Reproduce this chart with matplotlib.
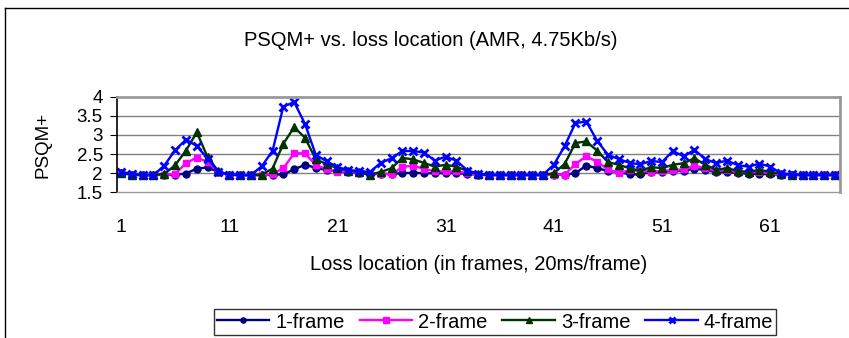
import matplotlib
matplotlib.use("Agg")
import matplotlib.pyplot as plt
from matplotlib.lines import Line2D

plt.rcParams["font.family"] = ["Liberation Sans", "DejaVu Sans"]

# loss location (frame index) and PSQM+ values
frames = list(range(1, 68))

one_frame = [
    2.01, 1.96, 1.95, 1.95, 1.96, 1.96, 1.99, 2.12, 2.15, 2.03,
    1.96, 1.95, 1.95, 1.95, 1.96, 1.97, 2.10, 2.22, 2.14, 2.08,
    2.05, 2.03, 2.01, 1.99, 1.98, 1.98, 2.00, 2.01, 2.00, 2.00,
    2.00, 2.00, 1.98, 1.96, 1.95, 1.95, 1.95, 1.95, 1.95, 1.95,
    1.96, 1.96, 2.00, 2.20, 2.13, 2.06, 2.03, 1.97, 1.97, 2.03,
    2.03, 2.06, 2.06, 2.12, 2.08, 2.03, 2.03, 2.01, 1.98, 1.98,
    1.97, 1.96, 1.95, 1.95, 1.95, 1.95, 1.95,
]
two_frame = [
    2.01, 1.96, 1.95, 1.95, 1.96, 1.98, 2.26, 2.41, 2.29, 2.03,
    1.96, 1.95, 1.95, 1.95, 1.98, 2.13, 2.52, 2.52, 2.21, 2.11,
    2.03, 2.05, 2.00, 1.97, 1.98, 1.97, 2.16, 2.20, 2.11, 2.05,
    2.05, 2.05, 2.00, 1.96, 1.95, 1.95, 1.95, 1.95, 1.95, 1.95,
    1.96, 1.96, 2.24, 2.44, 2.30, 2.10, 2.00, 2.08, 2.06, 2.04,
    2.06, 2.08, 2.10, 2.20, 2.13, 2.06, 2.08, 2.03, 2.03, 2.03,
    2.00, 1.97, 1.96, 1.95, 1.95, 1.95, 1.95,
]
three_frame = [
    2.01, 1.96, 1.95, 1.95, 1.98, 2.21, 2.59, 3.07, 2.42, 2.05,
    1.96, 1.95, 1.95, 1.96, 2.12, 2.77, 3.20, 2.93, 2.36, 2.24,
    2.13, 2.07, 2.03, 1.96, 2.03, 2.13, 2.40, 2.36, 2.27, 2.17,
    2.22, 2.17, 2.06, 1.97, 1.95, 1.95, 1.95, 1.95, 1.95, 1.95,
    2.00, 2.24, 2.79, 2.83, 2.59, 2.29, 2.22, 2.13, 2.06, 2.16,
    2.13, 2.22, 2.26, 2.39, 2.22, 2.09, 2.13, 2.06, 2.03, 2.09,
    2.03, 1.99, 1.96, 1.95, 1.95, 1.95, 1.95,
]
four_frame = [
    2.03, 1.99, 1.95, 1.95, 2.20, 2.60, 2.88, 2.71, 2.38, 2.04,
    1.96, 1.95, 1.95, 2.18, 2.58, 3.74, 3.86, 3.29, 2.48, 2.31,
    2.16, 2.08, 2.06, 2.03, 2.27, 2.39, 2.58, 2.58, 2.54, 2.33,
    2.43, 2.33, 2.07, 1.99, 1.96, 1.96, 1.96, 1.96, 1.96, 1.96,
    2.22, 2.71, 3.31, 3.35, 2.85, 2.48, 2.37, 2.27, 2.23, 2.32,
    2.29, 2.58, 2.44, 2.61, 2.37, 2.26, 2.33, 2.21, 2.17, 2.25,
    2.17, 2.00, 1.97, 1.96, 1.96, 1.96, 1.96,
]

series = [
    ("1-frame", one_frame, "#000080", "o", 5.0),
    ("2-frame", two_frame, "#FF00FF", "s", 5.0),
    ("3-frame", three_frame, "#003300", "^", 6.0),
    ("4-frame", four_frame, "#0000FF", "x", 6.0),
]

x_ticks = [1, 11, 21, 31, 41, 51, 61]
y_ticks = [1.5, 2, 2.5, 3, 3.5, 4]

fig = plt.figure(figsize=(8.49, 3.38), dpi=100)

# outer chart border (only top and left visible in the crop)
fig.add_artist(Line2D([5 / 849, 1.0], [1 - 8 / 338, 1 - 8 / 338],
                      transform=fig.transFigure, color="black", lw=1.0))
fig.add_artist(Line2D([5 / 849, 5 / 849], [0.0, 1 - 8 / 338],
                      transform=fig.transFigure, color="black", lw=1.0))

ax = fig.add_axes([116.7 / 849, 145.7 / 338, 723.3 / 849, 95.6 / 338])

for label, vals, color, marker, ms in series:
    mew = 2.0 if marker == "x" else 1.0
    ax.plot(frames, vals, color=color, lw=1.7, marker=marker, ms=ms,
            mew=mew, mec=color, mfc=color, label=label, clip_on=False)

ax.set_xlim(0.6, 67.45)
ax.set_ylim(1.5, 4)
ax.set_yticks(y_ticks)
ax.set_yticklabels(["1.5", "2", "2.5", "3", "3.5", "4"])
ax.set_xticks(x_ticks)
ax.tick_params(axis="y", direction="out", length=5, labelsize=13.5, pad=5)
ax.tick_params(axis="x", length=0, labelsize=14, pad=19)

for yv in [2, 2.5, 3, 3.5]:
    ax.axhline(yv, color="#808080", lw=1.0, zorder=0)

ax.spines["top"].set_color("#999999")
ax.spines["top"].set_linewidth(2.0)
ax.spines["right"].set_color("#999999")
ax.spines["right"].set_linewidth(2.0)
ax.spines["left"].set_color("black")
ax.spines["left"].set_linewidth(1.2)
ax.spines["bottom"].set_color("#999999")
ax.spines["bottom"].set_linewidth(1.0)

ax.set_ylabel("PSQM+", fontsize=13.5, labelpad=18)
ax.set_xlabel("Loss location (in frames, 20ms/frame)", fontsize=14.5, labelpad=14)
fig.text(431 / 849, 1 - 40 / 338, "PSQM+ vs. loss location (AMR, 4.75Kb/s)",
         ha="center", va="center", fontsize=14.5)

leg = fig.legend(loc="center", bbox_to_anchor=(495 / 849, 16 / 338), ncol=4,
                 fontsize=14.5, frameon=True, fancybox=False, edgecolor="black",
                 handlelength=2.6, handletextpad=0.3, columnspacing=0.75,
                 borderpad=0.15, markerscale=0.75)
leg.get_frame().set_linewidth(1.0)

fig.savefig("out.png", dpi=100)
